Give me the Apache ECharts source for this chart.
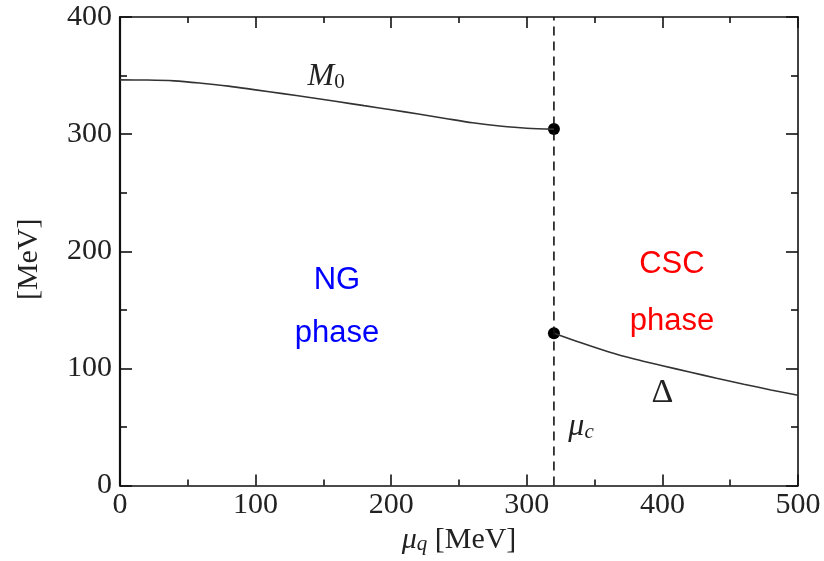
<!DOCTYPE html>
<html>
<head>
<meta charset="utf-8">
<script src="https://cdn.jsdelivr.net/npm/echarts@6/dist/echarts.min.js"></script>
<style>
  html, body { margin: 0; padding: 0; background: #fff; }
  #chart { width: 824px; height: 561px; }
</style>
</head>
<body>
<div id="chart"></div>
<script>
// Constituent quark mass M0 in the normal (NG) phase, up to the critical chemical potential
const m0Mu   = [0, 20, 40, 60, 80, 100, 120, 140, 160, 180, 200, 220, 240, 260, 280, 300, 320];
const m0Vals = [346.3, 346.2, 345.5, 343.5, 341, 337.8, 334.6, 331.2, 327.8, 324.3, 320.8, 317.2, 313.4, 309.7, 306.9, 305.0, 304.3];

// Diquark gap Delta in the colour-superconducting (CSC) phase
const gapMu   = [320, 340, 360, 380, 400, 420, 440, 460, 480, 500];
const gapVals = [130, 121.8, 114.2, 107.8, 102.3, 96.9, 91.6, 86.5, 81.6, 77.0];

// Critical chemical potential and the two endpoints at the transition
const muC = 320;
const transitionPoints = [[320, 304.3], [320, 130]];

// Axis ranges and tick spacing
const xMin = 0, xMax = 500, xStep = 100;
const yMin = 0, yMax = 400, yStep = 100;

const serif = '"Liberation Serif", "DejaVu Serif", serif';
const sans = '"Liberation Sans", Arial, sans-serif';

const chart = echarts.init(document.getElementById('chart'), null, { renderer: 'canvas' });

const tickStyle = { color: '#111', width: 1.6 };

function xAxisCfg(pos, showLabels) {
  return {
    type: 'value', position: pos, min: xMin, max: xMax, interval: xStep,
    axisLine: { show: true, onZero: false, lineStyle: { color: '#111', width: 1.6 } },
    axisTick: { show: true, inside: true, length: 11, lineStyle: tickStyle },
    minorTick: { show: true, splitNumber: 2, length: 6, lineStyle: tickStyle },
    splitLine: { show: false },
    axisLabel: { show: showLabels, fontFamily: serif, fontSize: 30, color: '#222', margin: 5 }
  };
}
function yAxisCfg(pos, showLabels, lineWidth) {
  return {
    type: 'value', position: pos, min: yMin, max: yMax, interval: yStep,
    axisLine: { show: true, onZero: false, lineStyle: { color: '#111', width: lineWidth } },
    axisTick: { show: true, inside: true, length: 12, lineStyle: tickStyle },
    minorTick: { show: true, splitNumber: 2, length: 7, lineStyle: tickStyle },
    splitLine: { show: false },
    axisLabel: { show: showLabels, fontFamily: serif, fontSize: 30, color: '#222', margin: 8 }
  };
}

const xBottom = xAxisCfg('bottom', true);
xBottom.name = '{mu|μ}{sub|q}{t| [MeV]}';
xBottom.nameLocation = 'middle';
xBottom.nameGap = 30;
xBottom.nameTextStyle = {
  rich: {
    mu:  { fontFamily: serif, fontStyle: 'italic', fontSize: 30, color: '#222', verticalAlign: 'bottom', lineHeight: 34 },
    sub: { fontFamily: serif, fontStyle: 'italic', fontSize: 21, color: '#222', verticalAlign: 'bottom', lineHeight: 26 },
    t:   { fontFamily: serif, fontSize: 30, color: '#222', verticalAlign: 'bottom', lineHeight: 34 }
  }
};

const yLeft = yAxisCfg('left', true, 2.2);
yLeft.name = '[MeV]';
yLeft.nameLocation = 'middle';
yLeft.nameRotate = 90;
yLeft.nameGap = 76;
yLeft.nameTextStyle = { fontFamily: serif, fontSize: 30, color: '#222', padding: [0, 16, 0, 0] };

const xTop = xAxisCfg('top', false);
const yRight = yAxisCfg('right', false, 1.6);

// Text annotations placed in data coordinates
const annotations = [
  { value: [152, 350.5], text: '{i|M}{s|0}', color: '#222' },
  { value: [160, 175], text: 'NG', color: '#0000ff', sans: true },
  { value: [160, 130], text: 'phase', color: '#0000ff', sans: true },
  { value: [407, 189], text: 'CSC', color: '#ff0000', sans: true },
  { value: [407, 140], text: 'phase', color: '#ff0000', sans: true },
  { value: [400, 79], text: '{d|Δ}', color: '#222' },
  { value: [340, 52], text: '{i|μ}{s|c}', color: '#222' }
];

const mathRich = {
  i: { fontFamily: serif, fontStyle: 'italic', fontSize: 32, color: '#222', verticalAlign: 'bottom', lineHeight: 36 },
  s: { fontFamily: serif, fontSize: 21, color: '#222', verticalAlign: 'bottom', lineHeight: 26 },
  d: { fontFamily: serif, fontSize: 34, color: '#222' }
};
const subItalic = Object.assign({}, mathRich.s, { fontStyle: 'italic' });

chart.setOption({
  animation: false,
  backgroundColor: '#fff',
  grid: { left: 120, right: 26, top: 17, bottom: 75.5, containLabel: false, outerBoundsMode: 'none' },
  xAxis: [xBottom, xTop],
  yAxis: [yLeft, yRight],
  series: [
    {
      name: 'M0', type: 'line', xAxisIndex: 0, yAxisIndex: 0,
      data: m0Mu.map((x, i) => [x, m0Vals[i]]),
      smooth: 0.3, showSymbol: false,
      lineStyle: { color: '#333', width: 1.6 }
    },
    {
      name: 'Delta', type: 'line', xAxisIndex: 0, yAxisIndex: 0,
      data: gapMu.map((x, i) => [x, gapVals[i]]),
      smooth: 0.3, showSymbol: false,
      lineStyle: { color: '#333', width: 1.6 }
    },
    {
      name: 'muC', type: 'line', xAxisIndex: 0, yAxisIndex: 0,
      data: [[muC, yMin], [muC, yMax]],
      showSymbol: false,
      lineStyle: { color: '#111', width: 1.6, type: [9, 6] }
    },
    {
      name: 'transition', type: 'scatter', xAxisIndex: 0, yAxisIndex: 0,
      data: transitionPoints, symbol: 'circle', symbolSize: 12,
      itemStyle: { color: '#000', opacity: 1 }
    },
    {
      name: 'labels', type: 'scatter', xAxisIndex: 0, yAxisIndex: 0,
      symbolSize: 0, silent: true,
      itemStyle: { opacity: 1 },
      data: annotations.map((a, k) => ({
        value: a.value,
        label: {
          show: true, position: 'inside', formatter: a.text,
          color: a.color,
          fontFamily: a.sans ? sans : serif,
          fontSize: a.sans ? 31 : 30,
          rich: a.sans ? undefined : (k === annotations.length - 1
            ? Object.assign({}, mathRich, { s: subItalic })
            : mathRich)
        }
      }))
    }
  ]
});
</script>
</body>
</html>
